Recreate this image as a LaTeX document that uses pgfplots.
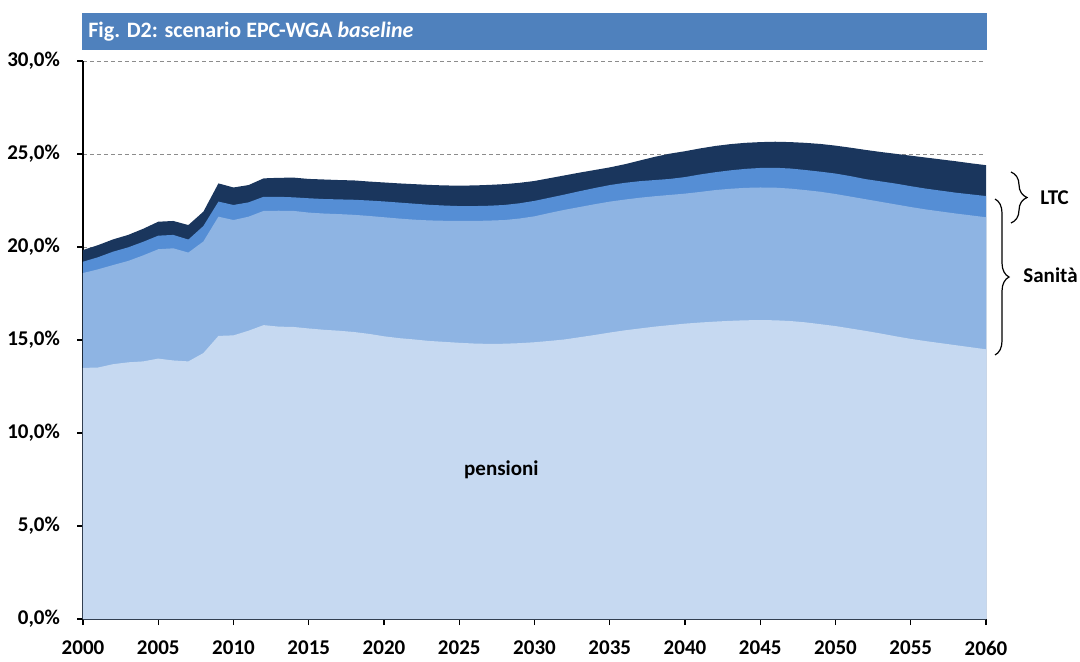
\documentclass[border=0pt]{standalone}
\usepackage{fontspec}
\setmainfont{Carlito}
\usepackage{pgfplots}
\pgfplotsset{compat=1.18}
\usepackage{pgfplotstable}
\usetikzlibrary{decorations.pathreplacing}

\definecolor{cpens}{HTML}{C6D9F1}
\definecolor{csan}{HTML}{8EB4E3}
\definecolor{cmed}{HTML}{558ED5}
\definecolor{cdark}{HTML}{1A365D}
\definecolor{ctitle}{HTML}{4F81BD}

% cumulative tops: P = pensioni, S = + sanita, M = + LTC (1), D = + LTC (2)
\pgfplotstableread{
year P S M D
2000 13.50 18.60 19.21 19.84
2001 13.52 18.80 19.45 20.10
2002 13.70 19.03 19.75 20.41
2003 13.80 19.25 19.98 20.65
2004 13.85 19.55 20.28 20.98
2005 14.00 19.88 20.61 21.36
2006 13.90 19.93 20.65 21.40
2007 13.85 19.70 20.40 21.18
2008 14.30 20.30 21.13 21.90
2009 15.22 21.63 22.44 23.42
2010 15.25 21.45 22.26 23.20
2011 15.50 21.63 22.40 23.33
2012 15.80 21.94 22.70 23.69
2013 15.72 21.95 22.70 23.72
2014 15.70 21.94 22.67 23.73
2015 15.62 21.85 22.62 23.66
2016 15.55 21.80 22.58 23.63
2017 15.50 21.77 22.56 23.60
2018 15.43 21.73 22.54 23.58
2019 15.33 21.67 22.50 23.52
2020 15.20 21.60 22.45 23.47
2021 15.10 21.53 22.39 23.42
2022 15.03 21.47 22.33 23.38
2023 14.95 21.43 22.27 23.34
2024 14.90 21.41 22.23 23.31
2025 14.85 21.40 22.20 23.30
2026 14.81 21.40 22.20 23.31
2027 14.79 21.42 22.22 23.34
2028 14.80 21.45 22.26 23.38
2029 14.83 21.53 22.35 23.45
2030 14.88 21.65 22.48 23.55
2031 14.95 21.83 22.65 23.70
2032 15.03 22.00 22.82 23.85
2033 15.15 22.15 23.00 24.00
2034 15.27 22.30 23.17 24.14
2035 15.40 22.44 23.33 24.28
2036 15.52 22.55 23.45 24.45
2037 15.62 22.65 23.54 24.65
2038 15.72 22.73 23.60 24.85
2039 15.80 22.80 23.66 25.02
2040 15.88 22.87 23.76 25.15
2041 15.94 22.96 23.90 25.30
2042 15.99 23.06 24.02 25.43
2043 16.03 23.13 24.12 25.53
2044 16.06 23.18 24.20 25.60
2045 16.07 23.20 24.25 25.64
2046 16.06 23.19 24.26 25.66
2047 16.02 23.14 24.22 25.64
2048 15.95 23.06 24.14 25.60
2049 15.85 22.97 24.05 25.54
2050 15.75 22.85 23.95 25.45
2051 15.62 22.71 23.81 25.34
2052 15.49 22.57 23.65 25.22
2053 15.35 22.43 23.53 25.11
2054 15.20 22.29 23.41 25.01
2055 15.06 22.15 23.27 24.91
2056 14.94 22.02 23.14 24.81
2057 14.83 21.91 23.03 24.71
2058 14.72 21.80 22.92 24.61
2059 14.61 21.70 22.83 24.50
2060 14.50 21.60 22.74 24.40
}\datatable

\begin{document}
\begin{tikzpicture}[x=1pt,y=1pt]
\useasboundingbox (-41.5,-21) rectangle (498.5,309.5);
\fill[ctitle] (-0.5,284.5) rectangle (452,303);
\node[anchor=west, text=white, inner sep=0pt, font=\fontsize{11}{13}\selectfont\bfseries] at (2.5,293.5) {Fig. D2: scenario EPC-WGA \textit{baseline}};
\begin{axis}[
  at={(0,0)}, anchor=south west,
  scale only axis, width=451.5pt, height=279pt,
  xmin=2000, xmax=2060, ymin=0, ymax=30,
  axis x line*=bottom, axis y line*=left,
  axis line style={black, line width=0.8pt},
  xtick={2000,2005,2010,2015,2020,2025,2030,2035,2040,2045,2050,2055,2060},
  xticklabels={2000,2005,2010,2015,2020,2025,2030,2035,2040,2045,2050,2055,2060},
  ytick={0,5,10,15,20,25,30},
  yticklabels={{0,0\%},{5,0\%},{10,0\%},{15,0\%},{20,0\%},{25,0\%},{30,0\%}},
  tick align=outside, major tick length=3pt,
  tick style={black, line width=0.7pt},
  ticklabel style={font=\fontsize{10.5}{12}\selectfont\bfseries},
  xticklabel style={yshift=-4.5pt},
  yticklabel style={xshift=-5pt},
  ymajorgrids,
  grid style={gray!90, dash pattern=on 2pt off 1.5pt, line width=0.5pt},
]
\addplot[fill=cdark, draw=none] table[x=year, y=D]{\datatable} \closedcycle;
\addplot[fill=cmed, draw=none] table[x=year, y=M]{\datatable} \closedcycle;
\addplot[fill=csan, draw=none] table[x=year, y=S]{\datatable} \closedcycle;
\addplot[fill=cpens, draw=none] table[x=year, y=P]{\datatable} \closedcycle;
\node[font=\fontsize{10.5}{12}\selectfont\bfseries] at (axis cs:2027.8,8.0) {pensioni};
\end{axis}
\draw[decorate, decoration={brace, amplitude=7pt}, line width=0.6pt] (456,210) -- (456,132);
\draw[decorate, decoration={brace, amplitude=8pt}, line width=0.6pt] (464,223.5) -- (464,198);
\node[anchor=west, inner sep=0pt, font=\fontsize{10.5}{12}\selectfont\bfseries] at (478.5,210.5) {LTC};
\node[anchor=west, inner sep=0pt, font=\fontsize{10.5}{12}\selectfont\bfseries] at (470,172) {Sanità};
\end{tikzpicture}
\end{document}
